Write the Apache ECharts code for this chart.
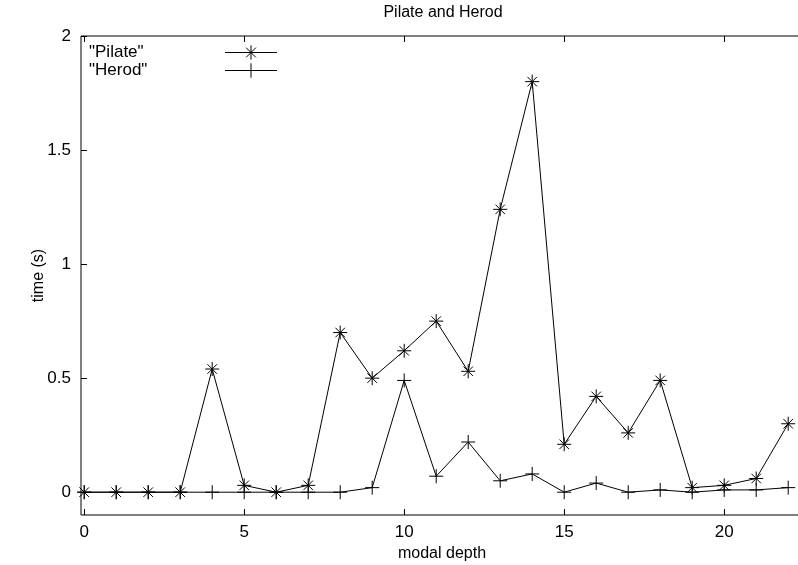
<!DOCTYPE html>
<html>
<head>
<meta charset="utf-8">
<script src="https://cdn.jsdelivr.net/npm/echarts@6/dist/echarts.min.js"></script>
<style>html,body{margin:0;padding:0;background:#fff}#c{width:798px;height:565px}</style>
</head>
<body>
<div id="c"></div>
<script>
const titleText = 'Pilate and Herod';
const xName = 'modal depth';
const yName = 'time (s)';
const seriesNames = ['"Pilate"', '"Herod"'];
const depths = [0,1,2,3,4,5,6,7,8,9,10,11,12,13,14,15,16,17,18,19,20,21,22];
const pilate = [0,0,0,0,0.54,0.03,0,0.03,0.70,0.50,0.62,0.75,0.53,1.24,1.80,0.21,0.42,0.26,0.49,0.02,0.03,0.06,0.30];
const herod  = [0,0,0,0,0,0,0,0,0,0.02,0.49,0.07,0.22,0.05,0.08,0,0.04,0,0.01,0,0.01,0.01,0.02];
const xTicks = [0,5,10,15,20];
const yTicks = [0,0.5,1,1.5,2];

const FONT = 'Liberation Sans, Arial, sans-serif';
const FS = 16;
const FT = 17;
const starPath = 'path://M0,5L10,5M5,0L5,10M1.6,1.6L8.4,8.4M1.6,8.4L8.4,1.6';
const plusPath = 'path://M0,5L10,5M5,0L5,10';

const chart = echarts.init(document.getElementById('c'), null, {renderer: 'canvas'});
const mk = (name, vals, sym) => ({
  name: name,
  type: 'line',
  data: depths.map((x, i) => [x, vals[i]]),
  symbol: sym,
  symbolSize: 14,
  showAllSymbol: true,
  color: '#000',
  lineStyle: {color: '#000', width: 1},
  itemStyle: {color: 'transparent', borderColor: '#000', borderWidth: 1},
  emphasis: {disabled: true},
  z: 3
});
chart.setOption({
  animation: false,
  backgroundColor: '#fff',
  textStyle: {fontFamily: FONT},
  title: {
    text: titleText, left: 438, top: 0, textAlign: 'center',
    textStyle: {fontFamily: FONT, fontSize: FS, fontWeight: 'normal', color: '#000'}
  },
  legend: {
    orient: 'vertical', left: 89, top: 44, align: 'right', padding: 0,
    itemWidth: 52, itemHeight: 18, itemGap: 1,
    selectedMode: false,
    lineStyle: {width: 1},
    itemStyle: {borderWidth: 1},
    formatter: '{w|{name}}',
    textStyle: {fontFamily: FONT, fontSize: FT, color: '#000',
      rich: {w: {width: 131, fontFamily: FONT, fontSize: FT, color: '#000', align: 'left'}}},
    data: seriesNames
  },
  grid: {left: 81, top: 36, width: 736, height: 479, show: true, borderColor: '#000', borderWidth: 1, containLabel: false, outerBoundsMode: 'none'},
  xAxis: [{
    type: 'value', min: -0.1, max: 22.9, position: 'bottom',
    name: xName, nameLocation: 'middle', nameGap: 29,
    nameTextStyle: {fontFamily: FONT, fontSize: FS, color: '#000', padding: [0, 14, 0, 0]},
    axisLine: {show: false, onZero: false},
    axisTick: {show: true, inside: true, length: 6, customValues: xTicks, lineStyle: {color: '#000'}},
    axisLabel: {show: true, customValues: xTicks, fontFamily: FONT, fontSize: FT, color: '#000', margin: 9},
    splitLine: {show: false}
  }, {
    type: 'value', min: -0.1, max: 22.9, position: 'top',
    axisLine: {show: false, onZero: false},
    axisTick: {show: true, inside: true, length: 6, customValues: xTicks, lineStyle: {color: '#000'}},
    axisLabel: {show: false},
    splitLine: {show: false}
  }],
  yAxis: {
    type: 'value', min: -0.1, max: 2,
    name: yName, nameLocation: 'middle', nameGap: 34, nameMoveOverlap: false,
    nameTextStyle: {fontFamily: FONT, fontSize: FS, color: '#000'},
    axisLine: {show: false, onZero: false},
    axisTick: {show: true, inside: true, length: 6, customValues: yTicks, lineStyle: {color: '#000'}},
    axisLabel: {show: true, customValues: yTicks, fontFamily: FONT, fontSize: FT, color: '#000', margin: 10},
    splitLine: {show: false}
  },
  series: [mk(seriesNames[0], pilate, starPath), mk(seriesNames[1], herod, plusPath)]
});
</script>
</body>
</html>
